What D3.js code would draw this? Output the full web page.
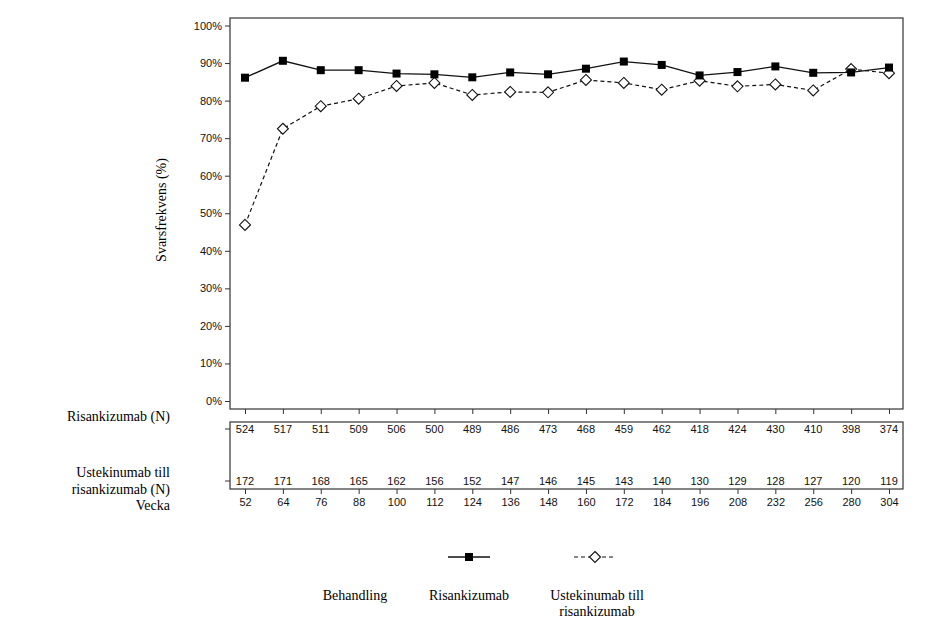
<!DOCTYPE html>
<html><head><meta charset="utf-8">
<script src="https://cdn.jsdelivr.net/npm/d3@7"></script>
<style>body{margin:0;background:#fff}svg{display:block}</style>
</head><body>
<svg id="c" width="930" height="637"></svg>
<script>
const weeks = [52,64,76,88,100,112,124,136,148,160,172,184,196,208,232,256,280,304];
const risankizumab = [86.1,90.6,88.1,88.1,87.2,87.0,86.2,87.5,87.0,88.5,90.4,89.5,86.7,87.6,89.1,87.4,87.5,88.8];
const ustekinumab = [46.9,72.5,78.5,80.5,83.9,84.7,81.5,82.3,82.2,85.5,84.7,82.9,85.3,83.8,84.3,82.7,88.4,87.3];
const nRisankizumab = [524,517,511,509,506,500,489,486,473,468,459,462,418,424,430,410,398,374];
const nUstekinumab = [172,171,168,165,162,156,152,147,146,145,143,140,130,129,128,127,120,119];
const yTicks = [0,10,20,30,40,50,60,70,80,90,100];

const svg = d3.select("#c");
const sans = "'Liberation Sans', Arial, sans-serif";
const serif = "'Liberation Serif', 'Times New Roman', serif";
const frame = "#333";

const x = d3.scalePoint().domain(weeks).range([245, 889]);
const y = d3.scaleLinear().domain([0,100]).range([401, 25.5]);
const L = 230, R = 903, T = 18, B = 409;

// plot frame
svg.append("rect").attr("x",L).attr("y",T).attr("width",R-L).attr("height",B-T)
  .attr("fill","none").attr("stroke",frame).attr("stroke-width",1.2);

// y axis
const yAx = svg.append("g").attr("transform",`translate(${L},0)`)
  .call(d3.axisLeft(y).tickValues(yTicks).tickSize(5).tickPadding(3).tickFormat(d=>d+"%"));
yAx.select(".domain").remove();
yAx.selectAll("line").attr("stroke",frame);
yAx.selectAll("text").attr("font-family",sans).attr("font-size",11).attr("fill","#111");

// x ticks on plot bottom
const xAx1 = svg.append("g").attr("transform",`translate(0,${B})`)
  .call(d3.axisBottom(x).tickSize(5).tickFormat(""));
xAx1.select(".domain").remove();
xAx1.selectAll("line").attr("stroke",frame);

// y label
svg.append("text").attr("transform","translate(166,210) rotate(-90)")
  .attr("text-anchor","middle").attr("font-family",serif).attr("font-size",14)
  .text("Svarsfrekvens (%)");

// lines
const line = d3.line().x((d,i)=>x(weeks[i])).y(d=>y(d));
svg.append("path").datum(ustekinumab).attr("d",line).attr("fill","none")
  .attr("stroke","#111").attr("stroke-width",1.2).attr("stroke-dasharray","4,3");
svg.append("path").datum(risankizumab).attr("d",line).attr("fill","none")
  .attr("stroke","#111").attr("stroke-width",1.3);

const diamond = (cx,cy,r)=>`M${cx},${cy-r}L${cx+r},${cy}L${cx},${cy+r}L${cx-r},${cy}Z`;
svg.append("g").selectAll("path").data(ustekinumab).join("path")
  .attr("d",(d,i)=>diamond(x(weeks[i]),y(d),5.5))
  .attr("fill","#fff").attr("stroke","#111").attr("stroke-width",1.1);
svg.append("g").selectAll("rect").data(risankizumab).join("rect")
  .attr("x",(d,i)=>x(weeks[i])-4).attr("y",d=>y(d)-4)
  .attr("width",8).attr("height",8).attr("fill","#000");

// N table
const TT = 422, TB = 489;
svg.append("rect").attr("x",L).attr("y",TT).attr("width",R-L).attr("height",TB-TT)
  .attr("fill","none").attr("stroke",frame).attr("stroke-width",1.2);
const rows = [{v:nRisankizumab, yy:429},{v:nUstekinumab, yy:481}];
rows.forEach(r=>{
  svg.append("line").attr("x1",L-5).attr("x2",L).attr("y1",r.yy).attr("y2",r.yy).attr("stroke",frame);
  svg.append("g").selectAll("text").data(r.v).join("text")
    .attr("x",(d,i)=>x(weeks[i])).attr("y",r.yy).attr("dy","0.35em")
    .attr("text-anchor","middle").attr("font-family",sans).attr("font-size",11).attr("fill","#111")
    .text(d=>d);
});
const xAx2 = svg.append("g").attr("transform",`translate(0,${TB})`)
  .call(d3.axisBottom(x).tickSize(5).tickPadding(4));
xAx2.select(".domain").remove();
xAx2.selectAll("line").attr("stroke",frame);
xAx2.selectAll("text").attr("font-family",sans).attr("font-size",11).attr("fill","#111");

// left row labels
const lab = (t,yy)=>svg.append("text").attr("x",170).attr("y",yy).attr("dy","0.35em")
  .attr("text-anchor","end").attr("font-family",serif).attr("font-size",14).text(t);
lab("Risankizumab (N)",416);
lab("Ustekinumab till",472);
lab("risankizumab (N)",489);
lab("Vecka",505);

// legend
const ly = 557;
svg.append("line").attr("x1",448).attr("x2",490).attr("y1",ly).attr("y2",ly).attr("stroke","#111").attr("stroke-width",1.3);
svg.append("rect").attr("x",465).attr("y",ly-4).attr("width",8).attr("height",8).attr("fill","#000");
svg.append("line").attr("x1",574).attr("x2",616).attr("y1",ly).attr("y2",ly).attr("stroke","#111").attr("stroke-width",1.2).attr("stroke-dasharray","4,3");
svg.append("path").attr("d",diamond(595,ly,5.5)).attr("fill","#fff").attr("stroke","#111").attr("stroke-width",1.1);

const leg = (t,xx,yy)=>svg.append("text").attr("x",xx).attr("y",yy).attr("dy","0.35em")
  .attr("text-anchor","middle").attr("font-family",serif).attr("font-size",14).text(t);
leg("Behandling",355,595);
leg("Risankizumab",469,595);
leg("Ustekinumab till",597,595);
leg("risankizumab",597,611);
</script>
</body></html>
